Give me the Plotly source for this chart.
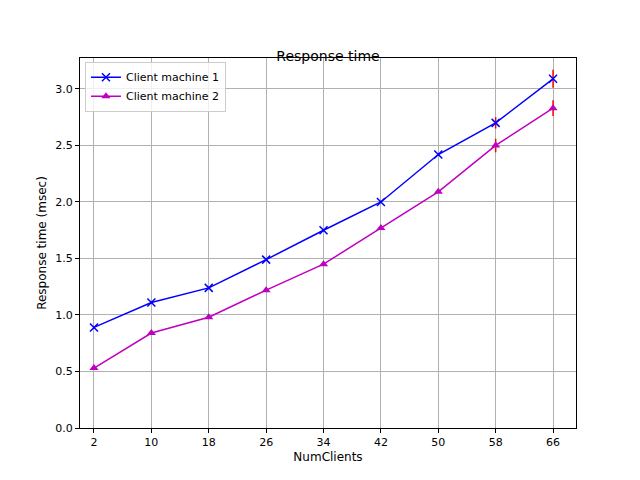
import plotly.graph_objs as go

num_clients = [2, 10, 18, 26, 34, 42, 50, 58, 66]
machine1 = [0.89, 1.11, 1.24, 1.49, 1.75, 2.00, 2.42, 2.70, 3.09]
machine1_err = [0.01, 0.01, 0.01, 0.01, 0.01, 0.01, 0.01, 0.05, 0.08]
machine2 = [0.53, 0.84, 0.98, 1.22, 1.45, 1.77, 2.09, 2.50, 2.83]
machine2_err = [0.01, 0.01, 0.01, 0.01, 0.01, 0.01, 0.01, 0.06, 0.07]

fig = go.Figure()
fig.add_trace(go.Scatter(
    x=num_clients, y=machine1, mode="lines+markers", name="Client machine 1",
    line=dict(color="#0000ff", width=1.5),
    marker=dict(symbol="x-thin", size=8, line=dict(color="#0000ff", width=1.5)),
    error_y=dict(type="data", array=machine1_err, color="red", thickness=1.5, width=0),
))
fig.add_trace(go.Scatter(
    x=num_clients, y=machine2, mode="lines+markers", name="Client machine 2",
    line=dict(color="#bf00bf", width=1.5),
    marker=dict(symbol="triangle-up", size=8, color="#bf00bf"),
    error_y=dict(type="data", array=machine2_err, color="red", thickness=1.5, width=0),
))

axis = dict(showline=True, linecolor="black", mirror=True, showgrid=True,
            gridcolor="#b0b0b0", zeroline=False, ticks="outside", ticklen=4,
            tickcolor="black", tickfont=dict(size=11, color="black"), automargin=False)
fig.update_xaxes(axis, range=[0.05, 69.2], tickvals=num_clients,
                 title=dict(text="NumClients", font=dict(size=12), standoff=4))
fig.update_yaxes(axis, range=[0, 3.274], tickvals=[0, 0.5, 1, 1.5, 2, 2.5, 3],
                 ticktext=["0.0", "0.5", "1.0", "1.5", "2.0", "2.5", "3.0"],
                 title=dict(text="Response time (msec)", font=dict(size=12), standoff=6))
fig.update_layout(
    width=640, height=480, template="none",
    font=dict(family="DejaVu Sans", color="black"),
    paper_bgcolor="white", plot_bgcolor="white",
    title=dict(text="Response time", x=0.5, y=0.91, xanchor="center", font=dict(size=14)),
    margin=dict(l=72, r=72, t=50, b=60),
    legend=dict(x=0.01, y=0.99, xanchor="left", yanchor="top", bordercolor="#cccccc",
                borderwidth=1, bgcolor="rgba(255,255,255,0.8)", font=dict(size=11),
                tracegroupgap=0),
    showlegend=True,
)
fig.write_html("out.html")
